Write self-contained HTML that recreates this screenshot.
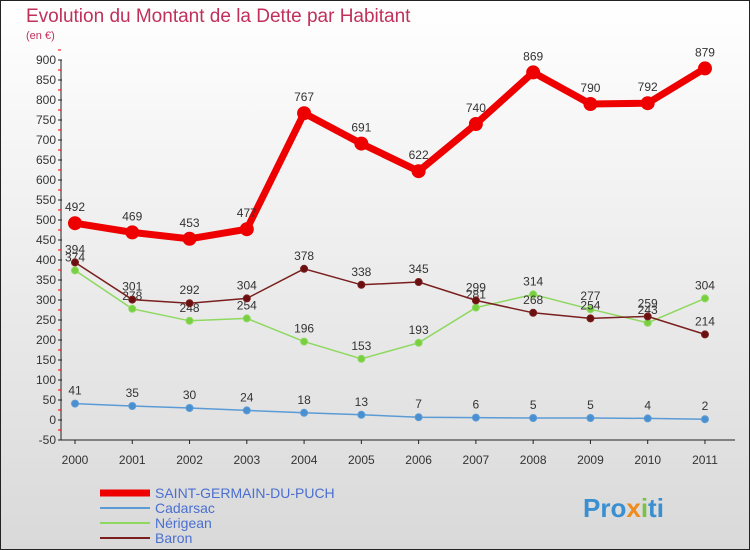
<!DOCTYPE html>
<html><head><meta charset="utf-8"><style>
body{margin:0}
#c{width:750px;height:550px;position:relative;overflow:hidden;font-family:"Liberation Sans",sans-serif}
</style></head><body>
<div id="c">
<svg id="s" width="750" height="550" xmlns="http://www.w3.org/2000/svg">
<defs><linearGradient id="bg" x1="0" y1="0" x2="0" y2="1"><stop offset="0" stop-color="#ffffff"/><stop offset="1" stop-color="#d9d9d9"/></linearGradient></defs>
<rect x="0.5" y="0.5" width="749" height="549" fill="url(#bg)" stroke="#222"/>
<text x="26" y="22" font-size="19" fill="#c0305a">Evolution du Montant de la Dette par Habitant</text>
<text x="26" y="39" font-size="11" fill="#c0305a">(en €)</text>
<g id="axes"></g><g id="series"></g><g id="legend"></g>
<text x="583" y="517" font-size="26" font-weight="bold" fill="#3a8fd0">Pro<tspan fill="#f08a1c">x</tspan><tspan fill="#7cc242">i</tspan>ti</text>
</svg></div>
<script>
const years=[2000,2001,2002,2003,2004,2005,2006,2007,2008,2009,2010,2011];
const yTicks=[-50,0,50,100,150,200,250,300,350,400,450,500,550,600,650,700,750,800,850,900];
const saint=[492,469,453,477,767,691,622,740,869,790,792,879];
const cadarsac=[41,35,30,24,18,13,7,6,5,5,4,2];
const nerigean=[374,278,248,254,196,153,193,281,314,277,243,304];
const baron=[394,301,292,304,378,338,345,299,268,254,259,214];
const NS="http://www.w3.org/2000/svg";
const X=i=>75+i*57.27, Y=v=>420-v*0.4;
function mk(p,t,a){const e=document.createElementNS(NS,t);for(const k in a)e.setAttribute(k,a[k]);p.appendChild(e);return e;}
const ax=document.getElementById('axes');
const yl=mk(ax,'line',{x1:61,y1:Y(900),x2:61,y2:Y(-50),stroke:'#222'});


const xl=mk(ax,'line',{x1:61,y1:440,x2:735,y2:440,stroke:'#222'});


yTicks.forEach(v=>{
 mk(ax,'line',{x1:58,y1:Y(v),x2:62,y2:Y(v),stroke:'#222'});
 mk(ax,'line',{x1:58,y1:Y(v)-10,x2:61,y2:Y(v)-10,stroke:'#e00'});
 const t=mk(ax,'text',{x:56,y:Y(v)+4,'font-size':12,'text-anchor':'end',fill:'#333'});t.textContent=v;
 
 
});
years.forEach((y,i)=>{
 mk(ax,'line',{x1:X(i),y1:440,x2:X(i),y2:444,stroke:'#222'});
 const t=mk(ax,'text',{x:X(i),y:464,'font-size':12,'text-anchor':'middle',fill:'#333'});t.textContent=y;
 
 
});
const sg=document.getElementById('series');
function series(name,d,color,w,r,fill){
 const g=mk(sg,'g',{});
 
 
 mk(g,'polyline',{points:d.map((v,i)=>X(i)+','+Y(v)).join(' '),fill:'none',stroke:color,'stroke-width':w});
 d.forEach((v,i)=>{
  const c=mk(g,'circle',{cx:X(i),cy:Y(v),r:r,fill:fill,stroke:color,'stroke-width':1});
  
  
  const t=mk(g,'text',{x:X(i),y:Y(v)-9-(r>5?3:0),'font-size':12,'text-anchor':'middle',fill:'#333'});t.textContent=v;
  
  
 });
}
series('cadarsac',cadarsac,'#5b9bd5',1.5,3.5,'#4a90d0');
series('nerigean',nerigean,'#8fd860',1.5,3.5,'#78d040');
series('baron',baron,'#7a1f1f',1.5,3.5,'#6a1010');
series('saint-germain',saint,'#ee0000',7,6.5,'#ee0000');
const lg=document.getElementById('legend');
[['SAINT-GERMAIN-DU-PUCH','#ee0000',7],['Cadarsac','#5b9bd5',2],['Nérigean','#8fd860',2],['Baron','#7a1f1f',2]].forEach((e,i)=>{
 const y=493+i*15;
 const l=mk(lg,'line',{x1:100,y1:y,x2:150,y2:y,stroke:e[1],'stroke-width':e[2]});
 
 
 const t=mk(lg,'text',{x:155,y:y+5,'font-size':14,fill:'#4a6fd0'});t.textContent=e[0];
 
 
});
</script>
</body></html>
